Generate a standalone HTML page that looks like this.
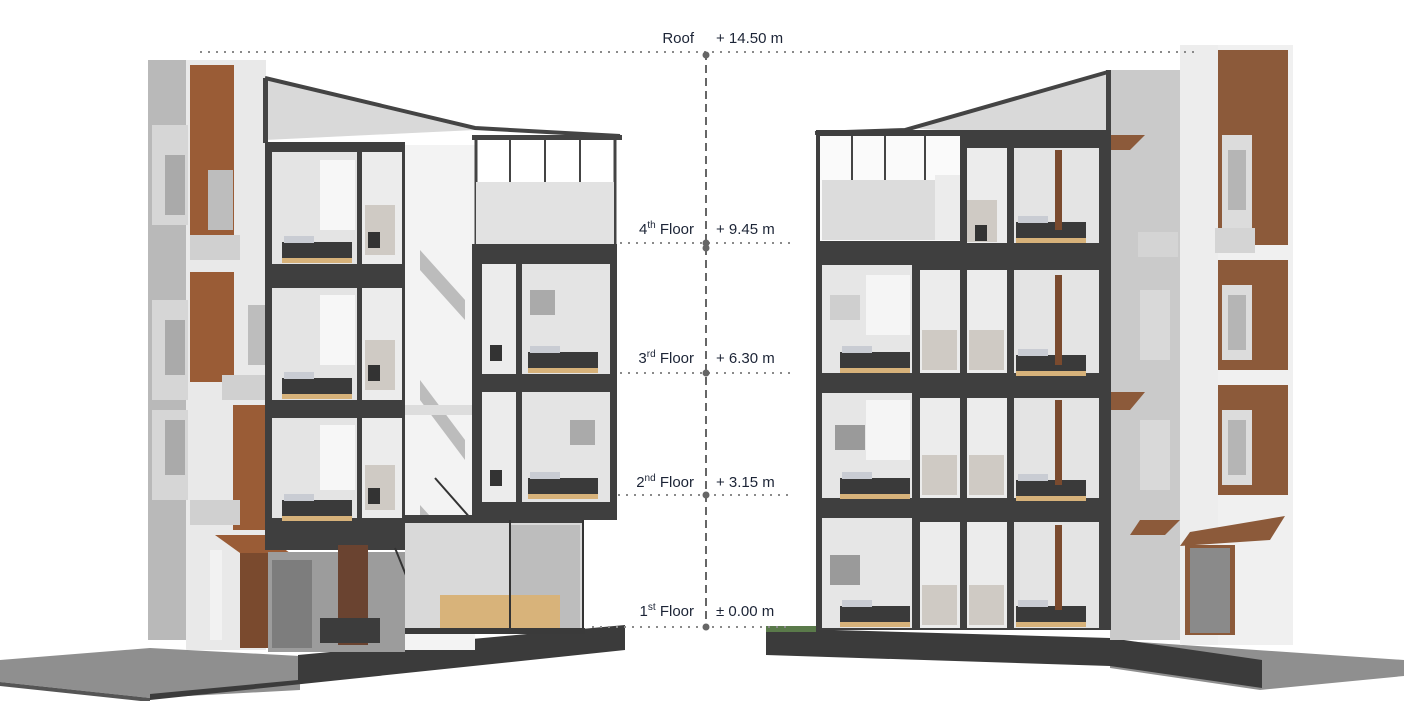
<!DOCTYPE html>
<html><head><meta charset="utf-8"><style>
html,body{margin:0;padding:0;background:#fff;}
svg{display:block;}
text{font-family:"Liberation Sans",sans-serif;fill:#1c2436;font-size:15px;}
</style></head><body>
<svg width="1404" height="701" viewBox="0 0 1404 701" xmlns="http://www.w3.org/2000/svg">
<defs>
<g id="bed"><rect x="0" y="0" width="70" height="16" fill="#3a3a3a"/><rect x="2" y="-6" width="30" height="7" fill="#c9ccd3"/><rect x="0" y="16" width="70" height="5" fill="#d7b27a"/></g>
</defs>
<!-- ===== LEFT BUILDING ===== -->
<!-- paving -->
<polygon points="0,660 150,648 300,656 300,690 150,698 0,682" fill="#8f8f8f"/>
<polygon points="0,682 150,698 150,702 0,686" fill="#555"/>
<!-- dark base -->
<polygon points="298,655 625,625 625,650 150,700 150,694 298,680" fill="#3b3b3b"/>
<!-- side textured wall -->
<rect x="148" y="60" width="42" height="580" fill="#b9b9b9"/>
<rect x="186" y="60" width="80" height="590" fill="#e9e9e9"/>
<rect x="190" y="65" width="44" height="195" fill="#9a5c36"/>
<rect x="190" y="272" width="44" height="110" fill="#9a5c36"/>
<rect x="233" y="405" width="34" height="125" fill="#9a5c36"/>
<rect x="152" y="125" width="36" height="100" fill="#d6d6d6"/><rect x="165" y="155" width="20" height="60" fill="#aaa"/>
<rect x="152" y="300" width="36" height="100" fill="#d6d6d6"/><rect x="165" y="320" width="20" height="55" fill="#aaa"/>
<rect x="152" y="410" width="36" height="90" fill="#d6d6d6"/><rect x="165" y="420" width="20" height="55" fill="#aaa"/>
<rect x="208" y="170" width="25" height="60" fill="#bdbdbd"/>
<rect x="248" y="305" width="20" height="60" fill="#bdbdbd"/>
<rect x="190" y="235" width="50" height="25" fill="#d0d0d0"/>
<rect x="222" y="375" width="50" height="25" fill="#d0d0d0"/>
<rect x="190" y="500" width="50" height="25" fill="#d0d0d0"/>
<polygon points="215,535 265,535 290,553 240,553" fill="#9a5c36"/>
<rect x="240" y="553" width="30" height="95" fill="#7a4a2e"/>
<rect x="210" y="550" width="12" height="90" fill="#f2f2f2"/>
<!-- roof -->
<polygon points="265,80 475,130 265,140" fill="#d9d9d9"/>
<polyline points="265,78 475,128 620,136" fill="none" stroke="#444" stroke-width="4"/>
<rect x="263" y="78" width="5" height="65" fill="#444"/>
<!-- left block rooms -->
<rect x="265" y="142" width="140" height="408" fill="#3f3f3f"/>
<rect x="272" y="152" width="85" height="112" fill="#e4e4e4"/>
<rect x="362" y="152" width="40" height="112" fill="#ececec"/>
<rect x="272" y="288" width="85" height="112" fill="#e4e4e4"/>
<rect x="362" y="288" width="40" height="112" fill="#ececec"/>
<rect x="272" y="418" width="85" height="100" fill="#e4e4e4"/>
<rect x="362" y="418" width="40" height="100" fill="#ececec"/>
<rect x="320" y="160" width="35" height="70" fill="#f7f7f7"/><rect x="320" y="295" width="35" height="70" fill="#f7f7f7"/><rect x="320" y="425" width="35" height="65" fill="#f7f7f7"/>
<use href="#bed" x="282" y="242"/><use href="#bed" x="282" y="378"/><use href="#bed" x="282" y="500"/>
<rect x="365" y="205" width="30" height="50" fill="#cfcac4"/><rect x="365" y="340" width="30" height="50" fill="#cfcac4"/><rect x="365" y="465" width="30" height="45" fill="#cfcac4"/>
<rect x="368" y="232" width="12" height="16" fill="#333"/><rect x="368" y="365" width="12" height="16" fill="#333"/><rect x="368" y="488" width="12" height="16" fill="#333"/>
<!-- ground floor left -->
<rect x="268" y="552" width="137" height="100" fill="#9c9c9c"/>
<rect x="272" y="560" width="40" height="88" fill="#7d7d7d"/>
<rect x="338" y="545" width="30" height="100" fill="#6a4330"/>
<rect x="320" y="618" width="60" height="25" fill="#3c3c3c"/>
<!-- stair section -->
<rect x="405" y="145" width="70" height="505" fill="#f3f3f3"/>
<polygon points="420,250 465,300 465,320 420,270" fill="#bcbcbc"/>
<polygon points="420,380 465,440 465,460 420,400" fill="#bcbcbc"/>
<polygon points="420,505 470,560 470,585 420,525" fill="#bcbcbc"/>
<rect x="405" y="405" width="70" height="10" fill="#ddd"/>
<line x1="435" y1="478" x2="472" y2="520" stroke="#333" stroke-width="2"/>
<line x1="395" y1="548" x2="420" y2="610" stroke="#333" stroke-width="2"/>
<!-- right block -->
<polyline points="476,140 476,245 615,245 615,140" fill="none" stroke="#444" stroke-width="3"/>
<rect x="476" y="182" width="138" height="62" fill="#e2e2e2"/>
<line x1="510" y1="140" x2="510" y2="182" stroke="#444" stroke-width="2"/><line x1="545" y1="140" x2="545" y2="182" stroke="#444" stroke-width="2"/><line x1="580" y1="140" x2="580" y2="182" stroke="#444" stroke-width="2"/>
<rect x="472" y="135" width="150" height="5" fill="#444"/>
<rect x="472" y="244" width="145" height="276" fill="#3f3f3f"/>
<rect x="482" y="264" width="34" height="110" fill="#ececec"/><rect x="522" y="264" width="88" height="110" fill="#e4e4e4"/>
<rect x="482" y="392" width="34" height="110" fill="#ececec"/><rect x="522" y="392" width="88" height="110" fill="#e4e4e4"/>
<use href="#bed" x="528" y="352"/><use href="#bed" x="528" y="478"/>
<rect x="490" y="345" width="12" height="16" fill="#333"/><rect x="490" y="470" width="12" height="16" fill="#333"/>
<rect x="530" y="290" width="25" height="25" fill="#aaa"/><rect x="570" y="420" width="25" height="25" fill="#aaa"/>
<!-- ground glass -->
<rect x="405" y="520" width="178" height="110" fill="#d9d9d9"/>
<rect x="510" y="525" width="70" height="105" fill="#bdbdbd"/>
<rect x="440" y="595" width="120" height="35" fill="#d8b37a"/>
<rect x="405" y="515" width="178" height="8" fill="#3f3f3f"/>
<line x1="510" y1="520" x2="510" y2="630" stroke="#333" stroke-width="2"/><line x1="583" y1="520" x2="583" y2="630" stroke="#333" stroke-width="2"/>
<rect x="405" y="628" width="180" height="6" fill="#3a3a3a"/>
<!-- ===== RIGHT BUILDING ===== -->
<polygon points="1110,640 1404,660 1404,676 1260,690 1110,668" fill="#8f8f8f"/>
<polygon points="766,628 1110,638 1262,660 1262,688 1110,666 766,655" fill="#3b3b3b"/>
<rect x="766" y="626" width="50" height="6" fill="#5a7a4a"/>
<!-- facade -->
<rect x="1110" y="70" width="70" height="570" fill="#cacaca"/>
<rect x="1180" y="45" width="38" height="600" fill="#ededed"/>
<rect x="1218" y="45" width="75" height="600" fill="#f0f0f0"/>
<rect x="1218" y="50" width="70" height="195" fill="#8c5a3a"/>
<rect x="1218" y="260" width="70" height="110" fill="#8c5a3a"/>
<rect x="1218" y="385" width="70" height="110" fill="#8c5a3a"/>
<rect x="1222" y="135" width="30" height="95" fill="#dcdcdc"/><rect x="1228" y="150" width="18" height="60" fill="#b5b5b5"/>
<rect x="1222" y="285" width="30" height="75" fill="#dcdcdc"/><rect x="1228" y="295" width="18" height="55" fill="#b5b5b5"/>
<rect x="1222" y="410" width="30" height="75" fill="#dcdcdc"/><rect x="1228" y="420" width="18" height="55" fill="#b5b5b5"/>
<rect x="1215" y="228" width="40" height="25" fill="#d4d4d4"/><rect x="1138" y="232" width="40" height="25" fill="#d4d4d4"/>
<rect x="1140" y="290" width="30" height="70" fill="#d9d9d9"/><rect x="1140" y="420" width="30" height="70" fill="#d9d9d9"/>
<polygon points="1140,520 1180,520 1165,535 1130,535" fill="#8c5a3a"/>
<polygon points="1190,532 1285,516 1270,540 1180,546" fill="#8c5a3a"/>
<rect x="1185" y="545" width="50" height="90" fill="#8c5a3a"/><rect x="1190" y="548" width="40" height="85" fill="#8a8a8a"/>
<polygon points="1108,392 1145,392 1130,410 1100,410" fill="#8c5a3a"/>
<polygon points="1105,135 1145,135 1130,150 1098,150" fill="#8c5a3a"/>
<!-- roof right -->
<polygon points="905,128 1108,72 1108,140" fill="#d9d9d9"/>
<polyline points="815,133 905,130 1108,72" fill="none" stroke="#444" stroke-width="4"/>
<rect x="1106" y="70" width="5" height="75" fill="#444"/>
<!-- section frame -->
<rect x="816" y="130" width="295" height="500" fill="#3f3f3f"/>
<!-- row A -->
<rect x="820" y="136" width="140" height="105" fill="#fafafa"/>
<rect x="822" y="180" width="136" height="60" fill="#dcdcdc"/>
<line x1="852" y1="136" x2="852" y2="180" stroke="#444" stroke-width="2"/><line x1="885" y1="136" x2="885" y2="180" stroke="#444" stroke-width="2"/><line x1="925" y1="136" x2="925" y2="180" stroke="#444" stroke-width="2"/>
<rect x="935" y="175" width="25" height="65" fill="#ececec"/>
<rect x="967" y="148" width="40" height="95" fill="#ececec"/><rect x="967" y="200" width="30" height="42" fill="#cfcac4"/>
<rect x="1014" y="148" width="85" height="95" fill="#e4e4e4"/>
<use href="#bed" x="1016" y="222"/>
<rect x="975" y="225" width="12" height="16" fill="#333"/>
<!-- rows B,C,D -->
<g>
<rect x="822" y="265" width="90" height="108" fill="#e6e6e6"/><rect x="920" y="270" width="40" height="103" fill="#ececec"/><rect x="967" y="270" width="40" height="103" fill="#ececec"/><rect x="1014" y="270" width="85" height="103" fill="#e4e4e4"/>
<rect x="822" y="393" width="90" height="105" fill="#e6e6e6"/><rect x="920" y="398" width="40" height="100" fill="#ececec"/><rect x="967" y="398" width="40" height="100" fill="#ececec"/><rect x="1014" y="398" width="85" height="100" fill="#e4e4e4"/>
<rect x="822" y="518" width="90" height="110" fill="#e6e6e6"/><rect x="920" y="522" width="40" height="106" fill="#ececec"/><rect x="967" y="522" width="40" height="106" fill="#ececec"/><rect x="1014" y="522" width="85" height="106" fill="#e4e4e4"/>
</g>
<use href="#bed" x="840" y="352"/><use href="#bed" x="1016" y="355"/>
<use href="#bed" x="840" y="478"/><use href="#bed" x="1016" y="480"/>
<use href="#bed" x="840" y="606"/><use href="#bed" x="1016" y="606"/>
<rect x="922" y="330" width="35" height="40" fill="#cfcac4"/><rect x="969" y="330" width="35" height="40" fill="#cfcac4"/>
<rect x="922" y="455" width="35" height="40" fill="#cfcac4"/><rect x="969" y="455" width="35" height="40" fill="#cfcac4"/>
<rect x="922" y="585" width="35" height="40" fill="#cfcac4"/><rect x="969" y="585" width="35" height="40" fill="#cfcac4"/>
<rect x="830" y="295" width="30" height="25" fill="#cfcfcf"/><rect x="835" y="425" width="30" height="25" fill="#9a9a9a"/><rect x="830" y="555" width="30" height="30" fill="#9a9a9a"/>
<rect x="1055" y="275" width="7" height="90" fill="#7a4a2e"/><rect x="1055" y="400" width="7" height="85" fill="#7a4a2e"/><rect x="1055" y="525" width="7" height="85" fill="#7a4a2e"/><rect x="1055" y="150" width="7" height="80" fill="#7a4a2e"/>
<rect x="866" y="400" width="44" height="60" fill="#f5f5f5"/><rect x="866" y="275" width="44" height="60" fill="#f5f5f5"/>
<!-- ===== LABELS ===== -->
<g stroke="#8a8a8a" stroke-width="2" stroke-dasharray="2,6" fill="none">
<line x1="200" y1="52" x2="1195" y2="52"/>
<line x1="620" y1="243" x2="792" y2="243"/>
<line x1="620" y1="373" x2="792" y2="373"/>
<line x1="618" y1="495" x2="792" y2="495"/>
<line x1="592" y1="627" x2="792" y2="627"/>
</g>
<line x1="706" y1="52" x2="706" y2="627" stroke="#666" stroke-width="2" stroke-dasharray="8,5"/>
<g fill="#666"><circle cx="706" cy="55" r="3.5"/><circle cx="706" cy="243" r="3.5"/><circle cx="706" cy="248" r="3.5"/><circle cx="706" cy="373" r="3.5"/><circle cx="706" cy="495" r="3.5"/><circle cx="706" cy="627" r="3.5"/></g>
<text x="694" y="43" text-anchor="end">Roof</text><text x="716" y="43">+ 14.50 m</text>
<text x="694" y="234" text-anchor="end">4<tspan dy="-6" font-size="10">th</tspan><tspan dy="6"> Floor</tspan></text><text x="716" y="234">+ 9.45 m</text>
<text x="694" y="363" text-anchor="end">3<tspan dy="-6" font-size="10">rd</tspan><tspan dy="6"> Floor</tspan></text><text x="716" y="363">+ 6.30 m</text>
<text x="694" y="487" text-anchor="end">2<tspan dy="-6" font-size="10">nd</tspan><tspan dy="6"> Floor</tspan></text><text x="716" y="487">+ 3.15 m</text>
<text x="694" y="616" text-anchor="end">1<tspan dy="-6" font-size="10">st</tspan><tspan dy="6"> Floor</tspan></text><text x="716" y="616">± 0.00 m</text>
</svg>
</body></html>
